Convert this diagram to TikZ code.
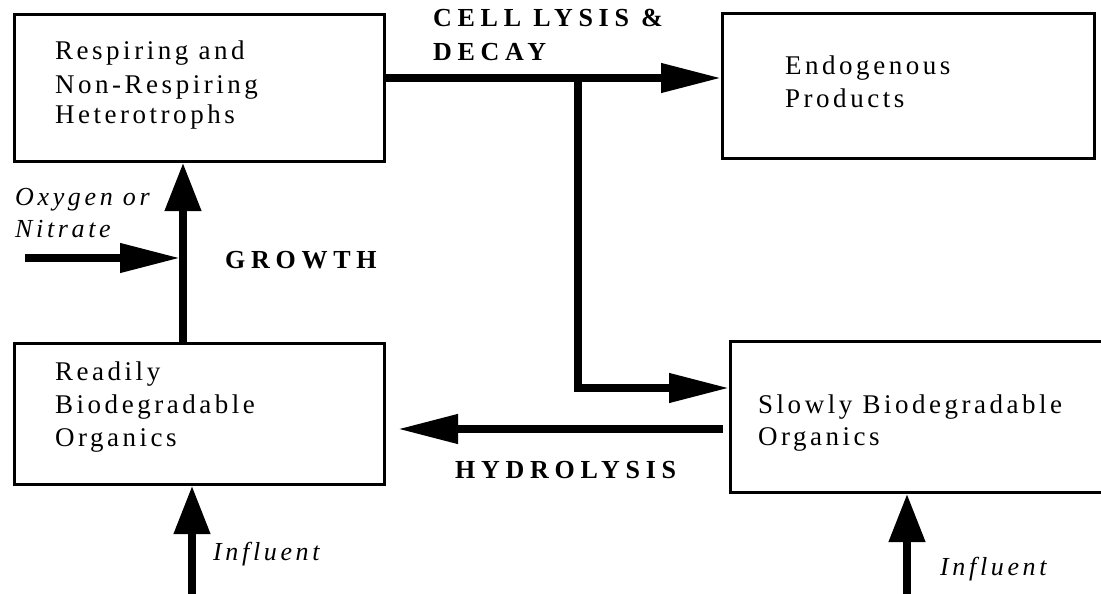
\documentclass[tikz,border=0pt]{standalone}
\usepackage{fontspec}
\setmainfont{Liberation Serif}
\newfontfamily\boxfont[LetterSpace=13]{Liberation Serif}
\newfontfamily\labfont[LetterSpace=22]{Liberation Serif}
\newfontfamily\itfont[LetterSpace=14]{Liberation Serif}
\usetikzlibrary{arrows.meta}
\tikzset{
  boxst/.style={draw=black, line width=3pt, fill=white, inner sep=0pt, anchor=north west},
  txt/.style={anchor=base west, inner sep=0pt, font=\boxfont\fontsize{27}{33}\selectfont},
  lab/.style={anchor=base west, inner sep=0pt, font=\labfont\bfseries\fontsize{26}{30}\selectfont},
  itlab/.style={anchor=base west, inner sep=0pt, font=\itfont\itshape\fontsize{26}{32}\selectfont},
  flow/.style={line width=7.5pt, -{Triangle[length=60pt,width=28pt]}},
  vflow/.style={line width=7.5pt, -{Triangle[length=48pt,width=35pt]}}
}
\begin{document}
\begin{tikzpicture}[x=1pt,y=-1pt]
\useasboundingbox (0,0) rectangle (1101,594);
% boxes
\node[boxst, minimum width=370pt, minimum height=147pt] (A) at (13,13) {};
\node[boxst, minimum width=372pt, minimum height=145pt] (B) at (721,12) {};
\node[boxst, minimum width=370pt, minimum height=141pt] (C) at (13,342) {};
\node[boxst, minimum width=386pt, minimum height=151pt] (D) at (729,340) {};
% helper coordinates
\coordinate (j) at (578,78);
\coordinate (k) at (578,388);
\coordinate (h) at (0,429);
\coordinate (g) at (183,0);
\coordinate (ox) at (25,258);
\coordinate (i1) at (192,594);
\coordinate (i2) at (907,594);
% connectors
\draw[line width=7.5pt] (A.east |- j) -- (j);
\draw[flow] (j) -- (B.west |- j);
\draw[flow] (j) -- (k) -- (k -| D.west);
\draw[flow] ([xshift=-6pt]D.west |- h) -- ([xshift=12pt]C.east |- h);
\draw[vflow] (C.north -| g) -- (A.south -| g);
\draw[flow] (ox) -- ([xshift=-3pt]ox -| g);
\draw[vflow] (i1) -- (i1 |- C.south);
\draw[vflow] (i2) -- (i2 |- D.south);
% box texts
\node[txt] (a1) at (55,60) {Respiring and};
\node[txt] (a2) at (55,93) {Non-Respiring};
\node[txt] (a3) at (55,124) {Heterotrophs};
\node[txt] (b1) at (785,75) {Endogenous};
\node[txt] (b2) at (785,107) {Products};
\node[txt] (c1) at (55,380) {Readily};
\node[txt] (c2) at (55,413) {Biodegradable};
\node[txt] (c3) at (55,446) {Organics};
\node[txt] (d1) at (758,413) {Slowly Biodegradable};
\node[txt] (d2) at (758,445) {Organics};
% labels
\node[lab] (l1) at (433,27) {CELL LYSIS \&};
\node[lab] (l2) at (433,61) {DECAY};
\node[lab] (l3) at (225,268) {GROWTH};
\node[lab] (l4) at (455,478) {HYDROLYSIS};
\node[itlab] (o1) at (15,205) {Oxygen or};
\node[itlab] (o2) at (15,237) {Nitrate};
\node[itlab] (f1) at (213,560) {Influent};
\node[itlab] (f2) at (940,575) {Influent};
\end{tikzpicture}
\end{document}
